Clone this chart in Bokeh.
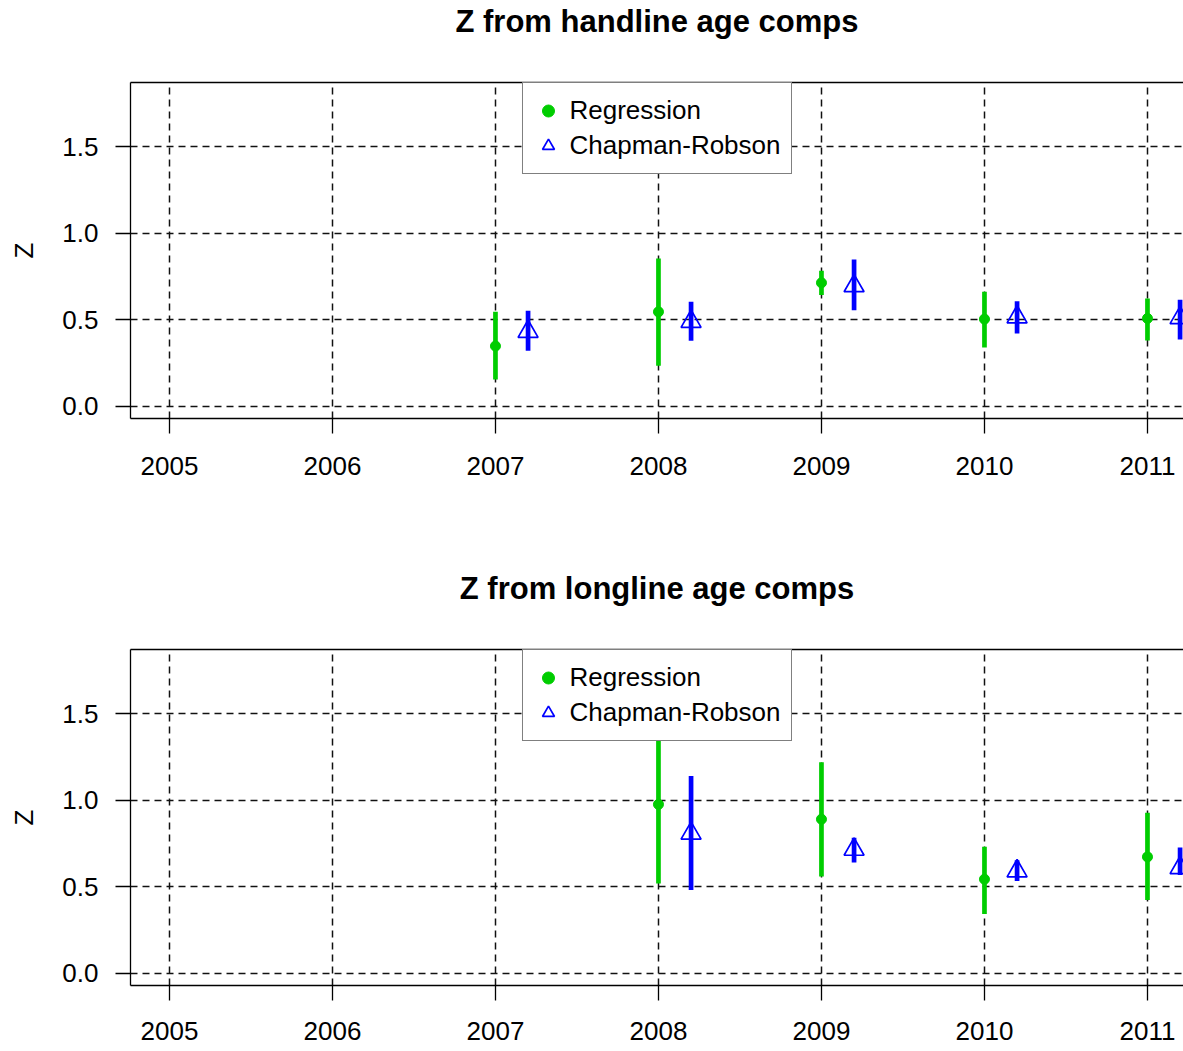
from bokeh.plotting import figure
from bokeh.models import (ColumnDataSource, Range1d, FixedTicker, PrintfTickFormatter,
                          LinearAxis, Legend, LegendItem, Grid)
from bokeh.layouts import column
from bokeh.transform import dodge
from bokeh.embed import file_html
from bokeh.resources import INLINE

# ---- data ----
years = [2007, 2008, 2009, 2010, 2011]

# handline
hl_reg = [0.347, 0.545, 0.713, 0.503, 0.507]
hl_reg_lo = [0.154, 0.233, 0.642, 0.339, 0.380]
hl_reg_hi = [0.545, 0.854, 0.783, 0.661, 0.623]
hl_cr = [0.431, 0.489, 0.695, 0.515, 0.510]
hl_cr_lo = [0.320, 0.378, 0.555, 0.420, 0.385]
hl_cr_hi = [0.551, 0.603, 0.848, 0.607, 0.615]

# longline
ll_years = [2008, 2009, 2010, 2011]
ll_reg = [0.976, 0.890, 0.543, 0.672]
ll_reg_lo = [0.518, 0.558, 0.341, 0.422]
ll_reg_hi = [1.430, 1.220, 0.731, 0.928]
ll_cr = [0.808, 0.715, 0.590, 0.609]
ll_cr_lo = [0.481, 0.639, 0.533, 0.568]
ll_cr_hi = [1.140, 0.783, 0.653, 0.726]

x_ticks = [2005, 2006, 2007, 2008, 2009, 2010, 2011]
y_ticks = [0.0, 0.5, 1.0, 1.5]

titles = ["Z from handline age comps", "Z from longline age comps"]
series_labels = ["Regression", "Chapman-Robson"]

GREEN = "#00CD00"
BLUE = "#0000FF"
FONT = "Liberation Sans"
FW, FH = 1053, 336


def make_panel(title, yrs, reg, reg_lo, reg_hi, cr, cr_lo, cr_hi, min_top, min_bottom, xstand):
    p = figure(frame_width=FW, frame_height=FH,
               x_range=Range1d(2004.761, 2011.221), y_range=Range1d(-0.072, 1.872),
               output_backend="svg", toolbar_location=None,
               min_border_left=130, min_border_right=0,
               min_border_top=min_top, min_border_bottom=min_bottom,
               x_axis_type=None, y_axis_type=None)
    p.outline_line_color = None
    p.background_fill_color = "white"
    p.border_fill_color = "white"

    # axes
    xa = LinearAxis(ticker=FixedTicker(ticks=x_ticks), formatter=PrintfTickFormatter(format="%d"))
    ya = LinearAxis(ticker=FixedTicker(ticks=y_ticks), formatter=PrintfTickFormatter(format="%.1f"),
                    axis_label="Z")
    # top border line, carrying the panel title as its label
    top = LinearAxis(ticker=FixedTicker(ticks=[]), axis_label=title)
    for ax in (xa, ya, top):
        ax.axis_line_color = "black"
        ax.axis_line_width = 1.3
        ax.major_tick_line_color = "black"
        ax.major_tick_line_width = 1.3
        ax.major_tick_out = 15
        ax.major_tick_in = 0
        ax.minor_tick_line_color = None
        ax.major_label_text_font = FONT
        ax.major_label_text_font_size = "26px"
        ax.major_label_text_color = "black"
    top.major_tick_out = 0
    top.major_label_text_font_size = "0px"
    top.major_label_standoff = 0
    top.axis_label_text_font = FONT
    top.axis_label_text_font_size = "31px"
    top.axis_label_text_font_style = "bold"
    top.axis_label_text_color = "black"
    top.axis_label_standoff = 44

    xa.major_label_standoff = xstand
    ya.major_label_standoff = 17
    ya.major_label_orientation = "horizontal"
    ya.axis_label_text_font = FONT
    ya.axis_label_text_font_size = "26px"
    ya.axis_label_text_font_style = "normal"
    ya.axis_label_text_color = "black"
    ya.axis_label_standoff = 20
    p.add_layout(xa, "below")
    p.add_layout(ya, "left")
    p.add_layout(top, "above")

    # dashed grid
    gx = Grid(dimension=0, ticker=FixedTicker(ticks=x_ticks))
    gy = Grid(dimension=1, ticker=FixedTicker(ticks=y_ticks))
    for g in (gx, gy):
        g.grid_line_color = "#111111"
        g.grid_line_width = 1.5
        g.grid_line_dash = "7 5"
        g.grid_line_alpha = 1.0
        p.add_layout(g)

    src_r = ColumnDataSource(dict(x=yrs, y=reg, lo=reg_lo, hi=reg_hi))
    src_c = ColumnDataSource(dict(x=yrs, y=cr, lo=cr_lo, hi=cr_hi))

    p.segment(x0="x", y0="lo", x1="x", y1="hi", source=src_r, line_color=GREEN, line_width=4.7)
    r_reg = p.scatter(x="x", y="y", source=src_r, marker="circle", size=10,
                      fill_color=GREEN, line_color=GREEN)
    p.segment(x0=dodge("x", 0.2), y0="lo", x1=dodge("x", 0.2), y1="hi", source=src_c,
              line_color=BLUE, line_width=4.7)
    r_cr = p.scatter(x=dodge("x", 0.2), y="y", source=src_c, marker="triangle", size=20,
                     fill_color=None, line_color=BLUE, line_width=1.7)

    leg = Legend(items=[LegendItem(label=series_labels[0], renderers=[r_reg]),
                        LegendItem(label=series_labels[1], renderers=[r_cr])],
                 location="top_center", margin=0, padding=10, spacing=0,
                 glyph_width=30, glyph_height=35, label_height=35, label_standoff=7,
                 label_text_font=FONT, label_text_font_size="26px", label_text_color="black",
                 border_line_color="black", border_line_width=1.4,
                 background_fill_color="white", background_fill_alpha=1.0)
    p.add_layout(leg, "center")
    return p


p1 = make_panel(titles[0], years, hl_reg, hl_reg_lo, hl_reg_hi, hl_cr, hl_cr_lo, hl_cr_hi,
                82, 68, 23)
p2 = make_panel(titles[1], ll_years, ll_reg, ll_reg_lo, ll_reg_hi, ll_cr, ll_cr_lo, ll_cr_hi,
                163, 65, 21)

p = column(p1, p2, spacing=0)
open("out.html", "w").write(file_html(p, INLINE))
